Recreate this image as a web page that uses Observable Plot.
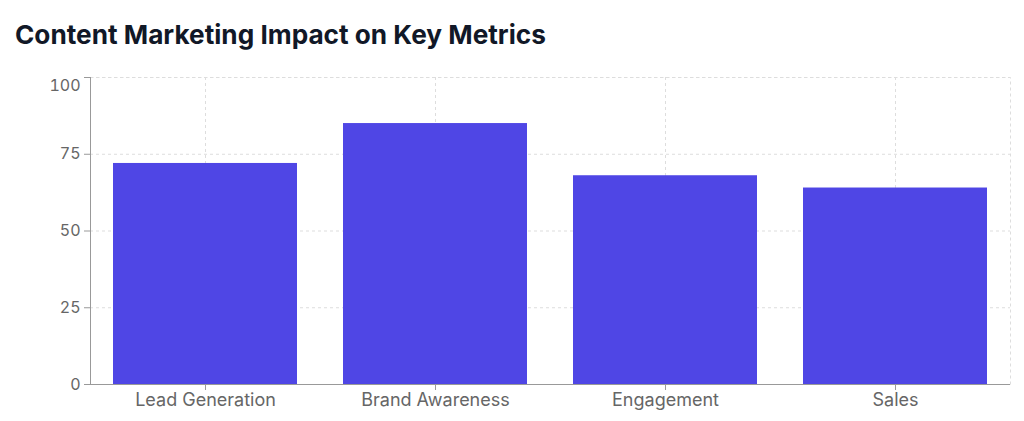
<!DOCTYPE html>
<html>
<head>
<meta charset="utf-8">
<script src="https://cdn.jsdelivr.net/npm/d3@7"></script>
<script src="https://cdn.jsdelivr.net/npm/@observablehq/plot@0.6"></script>
<style>
  html, body { margin: 0; padding: 0; background: #fff; }
  #title { font-family: Inter, "Noto Sans", sans-serif; font-weight: 700; font-size: 26.2px; color: #111827;
           height: 60px; box-sizing: border-box; padding: 19px 0 0 15px; line-height: 32px; white-space: nowrap; }
  #chart svg { display: block; }
</style>
</head>
<body>
<div id="title">Content Marketing Impact on Key Metrics</div>
<div id="chart"></div>
<script>
const metrics = ["Lead Generation", "Brand Awareness", "Engagement", "Sales"];
const values = [72, 85, 68, 64];
const yTicks = [0, 25, 50, 75, 100];

const data = metrics.map((m, i) => ({metric: m, value: values[i]}));
const yMax = d3.max(yTicks);

const chart = Plot.plot({
  width: 1024,
  height: 361,
  marginTop: 17,
  marginBottom: 37,
  marginLeft: 90,
  marginRight: 14,
  style: {fontFamily: "Inter, 'Noto Sans', sans-serif", fontSize: "16px", background: "#fff"},
  x: {domain: metrics, paddingInner: 0.2, paddingOuter: 0.1, label: null},
  y: {domain: [0, yMax], label: null},
  marks: [
    Plot.frame({stroke: "#ddd", strokeDasharray: "3 3"}),
    Plot.gridY(yTicks, {stroke: "#ddd", strokeOpacity: 1, strokeDasharray: "3 3"}),
    Plot.gridX(metrics, {stroke: "#ddd", strokeOpacity: 1, strokeDasharray: "3 3"}),
    Plot.barY(data, {x: "metric", y: "value", fill: "#4f46e5"}),
    Plot.frame({anchor: "left", stroke: "#999"}),
    Plot.ruleY([0], {stroke: "#999"}),
    Plot.axisY(yTicks, {tickSize: 6, tickPadding: 4, stroke: "#999", fill: "#666", fontSize: 16,
                        tickFormat: d => d === yMax ? "" : d, label: null}),
    Plot.axisY([yMax], {tickSize: 0, tickPadding: 10, fill: "#666", fontSize: 16, dy: 8, label: null}),
    Plot.axisX(metrics, {tickSize: 6, tickPadding: 3, stroke: "#999", fill: "#666", fontSize: 18, label: null})
  ]
});
document.getElementById("chart").appendChild(chart);
</script>
</body>
</html>
